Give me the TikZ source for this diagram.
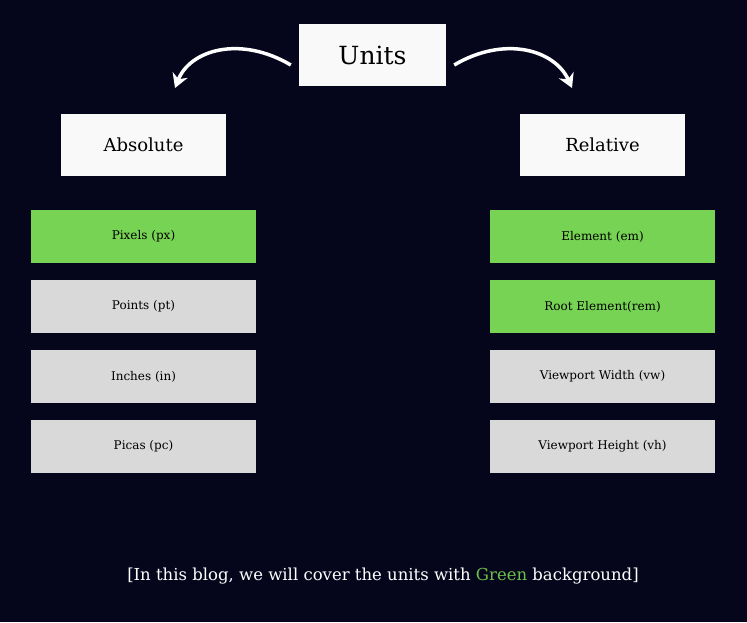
\documentclass[tikz,border=0pt]{standalone}
\usepackage{fontspec}
\setmainfont{DejaVu Serif}
\usetikzlibrary{arrows.meta}
\definecolor{bg}{HTML}{05061C}
\definecolor{grn}{HTML}{77D353}
\definecolor{gry}{HTML}{D9D9D9}
\definecolor{txtg}{HTML}{6CC04A}
\tikzset{
  hdr/.style={fill=white!95!gray, minimum height=62pt, inner sep=0pt, text=black},
  item/.style={minimum width=225pt, minimum height=53pt, inner sep=0pt, text=black, font=\fontsize{12}{14}\selectfont},
  gitem/.style={item, fill=grn},
  nitem/.style={item, fill=gry},
  arr/.style={white, line width=3.5pt, -{Stealth[length=14pt,width=16pt]}}
}
\begin{document}
\begin{tikzpicture}[x=1pt,y=-1pt]
\fill[bg] (0,0) rectangle (747,622);
\useasboundingbox (0,0) rectangle (747,622);
\node[hdr, minimum width=147pt, font=\fontsize{25}{30}\selectfont] (units) at (372.5,55) {Units};
\node[hdr, minimum width=165pt, font=\fontsize{18}{22}\selectfont] (abs) at (143.5,144.5) {Absolute};
\node[hdr, minimum width=165pt, font=\fontsize{18}{22}\selectfont] (rel) at (602.5,144.5) {Relative};
\node[gitem] (px) at (143.5,236.5) {Pixels (px)};
\node[nitem] (pt) at (143.5,306.5) {Points (pt)};
\node[nitem] (in) at (143.5,376.5) {Inches (in)};
\node[nitem] (pc) at (143.5,446) {Picas (pc)};
\node[gitem] (em) at (602.5,236.5) {Element (em)};
\node[gitem] (rem) at (602.5,306.5) {Root Element(rem)};
\node[nitem] (vw) at (602.5,376.5) {Viewport Width (vw)};
\node[nitem] (vh) at (602.5,446) {Viewport Height (vh)};
\coordinate (la) at (175,88);
\coordinate (ra) at (572,88);
\draw[arr] ([xshift=-8pt,yshift=-10pt]units.west) .. controls (240,35) and (190,50) .. (la);
\draw[arr] ([xshift=8pt,yshift=-10pt]units.east) .. controls (505,35) and (555,50) .. (ra);
\node[text=white, font=\fontsize{16.5}{20}\selectfont] (cap) at (383,576) {[In this blog, we will cover the units with \textcolor{txtg}{Green} background]};
\end{tikzpicture}
\end{document}
